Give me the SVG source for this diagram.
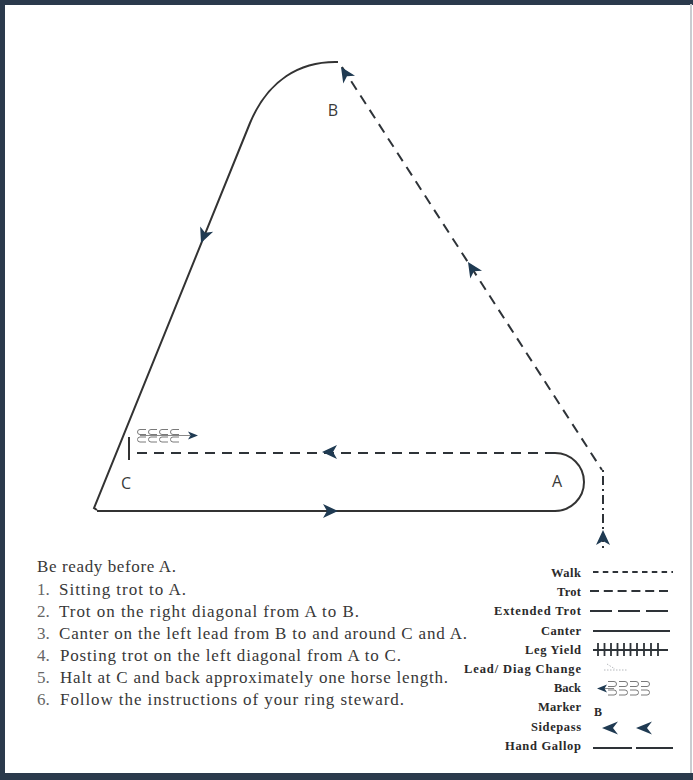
<svg xmlns="http://www.w3.org/2000/svg" xmlns:xlink="http://www.w3.org/1999/xlink" width="693" height="780" viewBox="0 0 693 780">
<style>
.path{fill:none;stroke:#333;stroke-width:2}
.trot{fill:none;stroke:#2e3338;stroke-width:2;stroke-dasharray:10 7}
.ah{fill:#1f3a52}
.lbl{font-family:"Open Sans","Liberation Sans",sans-serif;font-size:16px;fill:#3a3a3a;text-anchor:middle}
.ins{font-family:"Liberation Serif",serif;font-size:17px;fill:#383838}
.num{font-family:"Liberation Serif",serif;font-size:17px;fill:#666}
.leg{font-family:"Liberation Serif",serif;font-size:12.5px;font-weight:bold;fill:#2a2a2a;text-anchor:end}
.lg{fill:none;stroke:#2e3338;stroke-width:2}
.shoe{fill:none;stroke:#7a7a7a;stroke-width:1}
</style>
<defs>
<path id="ah" d="M0,0 L-15,-7 L-11,0 L-15,7 Z"/>
<path id="sp" d="M0,0 L16,-6.5 L11,0 L16,6.5 Z"/>
</defs>
<rect x="0" y="0" width="693" height="780" fill="#ffffff"/>
<g id="frame">
<path d="M2.5,780 V2.5 H693" fill="none" stroke="#2b3a4c" stroke-width="5"/>
<path d="M0,776.5 H693" fill="none" stroke="#2b3a4c" stroke-width="7"/>
<path d="M691,4 V773" fill="none" stroke="#c9ccd0" stroke-width="2"/>
</g>
<g id="connectors">
<path class="path" d="M97,511 H555 A29,29 0 0 0 555,453"/>
<path class="trot" d="M555,453 H133"/>
<path class="path" d="M97,510 L94,508 L250,123 C268,80 300,61 338,62"/>
<path class="trot" d="M342,67 L602,470"/>
<path fill="none" stroke="#2e3338" stroke-width="2" stroke-dasharray="2 4 9 4" d="M603,470 V548"/>
<use href="#ah" class="ah" transform="translate(341,67) rotate(-122.8)"/>
<use href="#ah" class="ah" transform="translate(468,262) rotate(-122.8)"/>
<use href="#ah" class="ah" transform="translate(201,243) rotate(112.1)"/>
<use href="#ah" class="ah" transform="translate(603,530) rotate(-90)"/>
<use href="#ah" class="ah" transform="translate(338,511)"/>
<use href="#ah" class="ah" transform="translate(322,452) rotate(180)"/>
</g>
<g id="halt-back">
<path d="M129,437 V460" stroke="#333" stroke-width="2"/>
<path class="shoe" d="M146,429.5 h-6 a2.5,2.5 0 0 0 0,5 h6 M157,429.5 h-6 a2.5,2.5 0 0 0 0,5 h6 M168,429.5 h-6 a2.5,2.5 0 0 0 0,5 h6 M179,429.5 h-6 a2.5,2.5 0 0 0 0,5 h6"/>
<path class="shoe" d="M146,437 h-6 a2.5,2.5 0 0 0 0,5 h6 M157,437 h-6 a2.5,2.5 0 0 0 0,5 h6 M168,437 h-6 a2.5,2.5 0 0 0 0,5 h6 M179,437 h-6 a2.5,2.5 0 0 0 0,5 h6"/>
<path d="M140,435.5 H190" stroke="#888" stroke-width="1"/>
<path class="ah" d="M198,435.5 L188,431.5 L190.5,435.5 L188,439.5 Z"/>
</g>
<g id="marker-B"><text class="lbl" x="333" y="116">B</text></g>
<g id="marker-C"><text class="lbl" x="126" y="489">C</text></g>
<g id="marker-A"><text class="lbl" x="557" y="487">A</text></g>
<g id="instructions">
<text class="ins" x="37" y="572" textLength="139" lengthAdjust="spacing">Be ready before A.</text>
<text class="num" x="37" y="595">1.</text>
<text class="ins" x="59" y="595" textLength="127" lengthAdjust="spacing">Sitting trot to A.</text>
<text class="num" x="37" y="617">2.</text>
<text class="ins" x="59" y="617" textLength="300" lengthAdjust="spacing">Trot on the right diagonal from A to B.</text>
<text class="num" x="37" y="639">3.</text>
<text class="ins" x="59" y="639" textLength="408" lengthAdjust="spacing">Canter on the left lead from B to and around C and A.</text>
<text class="num" x="37" y="661">4.</text>
<text class="ins" x="60" y="661" textLength="341" lengthAdjust="spacing">Posting trot on the left diagonal from A to C.</text>
<text class="num" x="37" y="683">5.</text>
<text class="ins" x="60" y="683" textLength="388" lengthAdjust="spacing">Halt at C and back approximately one horse length.</text>
<text class="num" x="37" y="705">6.</text>
<text class="ins" x="60" y="705" textLength="344" lengthAdjust="spacing">Follow the instructions of  your ring steward.</text>
</g>
<g id="legend">
<text class="leg" x="581" y="577" textLength="30" lengthAdjust="spacing">Walk</text>
<path class="lg" d="M593,572 H673" stroke-dasharray="5.5 4.3"/>
<text class="leg" x="581" y="596" textLength="24" lengthAdjust="spacing">Trot</text>
<path class="lg" d="M590,591 H668" stroke-dasharray="9 4.8"/>
<text class="leg" x="581" y="615" textLength="87" lengthAdjust="spacing">Extended Trot</text>
<path class="lg" d="M590,611 H668" stroke-dasharray="22 6"/>
<text class="leg" x="581" y="635" textLength="40" lengthAdjust="spacing">Canter</text>
<path class="lg" d="M593,631 H670"/>
<text class="leg" x="581" y="654" textLength="56" lengthAdjust="spacing">Leg Yield</text>
<path class="lg" d="M593,650 H668"/>
<path stroke="#2e3338" stroke-width="1.8" d="M598,643 V656 M604.5,643 V656 M611,643 V656 M617.5,643 V656 M624,643 V656 M630.5,643 V656 M637,643 V656 M644,643 V656 M651,643 V656 M658,643 V656"/>
<text class="leg" x="581" y="673" textLength="117" lengthAdjust="spacing">Lead/ Diag Change</text>
<path fill="none" stroke="#b5b8bc" stroke-width="1" stroke-dasharray="1.5 1.5" d="M604,670 H627 M607,664 L615,669"/>
<text class="leg" x="581" y="692" textLength="27" lengthAdjust="spacing">Back</text>
<path class="shoe" d="M608,681.5 h6 a2.5,2.5 0 0 1 0,5 h-6 M619,681.5 h6 a2.5,2.5 0 0 1 0,5 h-6 M630,681.5 h6 a2.5,2.5 0 0 1 0,5 h-6 M641,681.5 h6 a2.5,2.5 0 0 1 0,5 h-6"/>
<path class="shoe" d="M608,690 h6 a2.5,2.5 0 0 1 0,5 h-6 M619,690 h6 a2.5,2.5 0 0 1 0,5 h-6 M630,690 h6 a2.5,2.5 0 0 1 0,5 h-6 M641,690 h6 a2.5,2.5 0 0 1 0,5 h-6"/>
<path d="M604,688.5 H614" stroke="#888" stroke-width="1"/>
<path class="ah" d="M597,688.5 L607,684.5 L604.5,688.5 L607,692.5 Z"/>
<text class="leg" x="581" y="711" textLength="43" lengthAdjust="spacing">Marker</text>
<text class="leg" x="594" y="716" style="text-anchor:start;font-size:12px">B</text>
<text class="leg" x="581" y="731" textLength="50" lengthAdjust="spacing">Sidepass</text>
<use href="#sp" class="ah" transform="translate(602,728)"/>
<use href="#sp" class="ah" transform="translate(636,728)"/>
<text class="leg" x="581" y="750" textLength="76" lengthAdjust="spacing">Hand Gallop</text>
<path class="lg" d="M593,748 H632 M636,748 H673"/>
</g>
</svg>
